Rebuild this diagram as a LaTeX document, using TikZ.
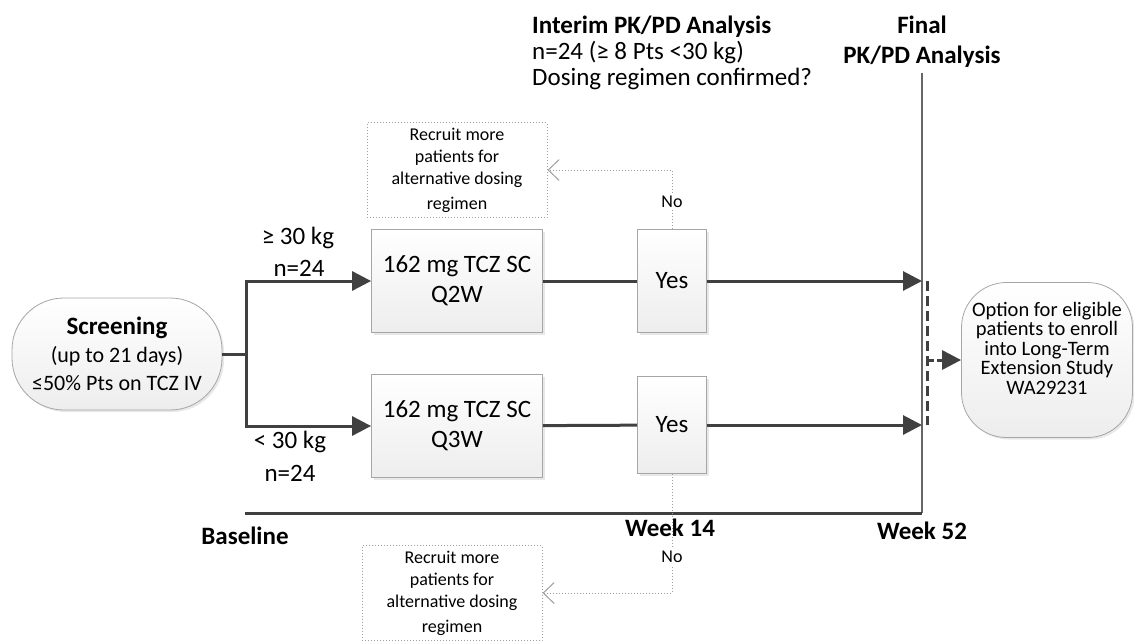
\documentclass[tikz,border=0pt]{standalone}
\usepackage{fontspec}
\setmainfont{Carlito}
\usepackage{tikz}
\usetikzlibrary{shadows,arrows.meta,positioning,calc}

\begin{document}
\begin{tikzpicture}[x=1pt,y=-1pt,
    box/.style={draw=gray!70,line width=0.8pt,top color=white,bottom color=gray!14,
      drop shadow={opacity=0.18,shadow xshift=2pt,shadow yshift=-2pt},
      align=center,inner sep=0pt,font=\fontsize{25}{30}\selectfont},
    roundbox/.style={box,rounded corners=45pt},
    recruit/.style={draw=gray!75,dotted,line width=1pt,minimum width=180pt,minimum height=95pt,
      align=center,inner sep=0pt,font=\fontsize{18}{22}\selectfont},
    flow/.style={draw=black!75,line width=3pt},
    tip/.style={-{Triangle[length=19pt,width=19pt]}},
    nolink/.style={draw=gray!75,dotted,line width=1pt,-{Straight Barb[length=11pt,width=21pt]}},
    lbl/.style={font=\fontsize{25}{30}\selectfont,inner sep=0pt}]
    \useasboundingbox (0,0) rectangle (1134,643);
    % Main nodes
    \node[roundbox,rounded corners=52pt,minimum width=210pt,minimum height=112pt,font=\fontsize{22}{28}\selectfont] (screen) at (117,354)
      {{\fontsize{25}{28}\selectfont\bfseries Screening}\\(up to 21 days)\\≤50\% Pts on TCZ IV};
    \node[box,minimum width=171pt,minimum height=103pt] (q2w) at (457,281) {162 mg TCZ SC\\Q2W};
    \node[box,minimum width=171pt,minimum height=103pt] (q3w) at (457,426) {162 mg TCZ SC\\Q3W};
    \node[box,minimum width=69pt,minimum height=103pt] (yes1) at (672,281) {Yes};
    \node[box,minimum width=69pt,minimum height=97pt] (yes2) at (672,425) {Yes};
    \node[roundbox,minimum width=171pt,minimum height=155pt,font=\fontsize{20.5}{19.5}\selectfont] (ext) at (1047,360)
      {Option for eligible\\patients to enroll\\into Long-Term\\Extension Study\\WA29231\\[4pt]\mbox{}};
    \node[recruit] (more1) at (457,170) {Recruit more\\patients for\\alternative dosing\\[3pt]regimen};
    \node[recruit] (more2) at (452,593) {Recruit more\\patients for\\alternative dosing\\[3pt]regimen};
    % Time line
    \coordinate (split) at (246,354);
    \coordinate (ftop) at (922,73);
    \coordinate (fbot) at (922,513);
    \coordinate (base) at (245,513);
    \coordinate (end1) at (922,281);
    \coordinate (end2) at (922,425);
    \coordinate (d1) at (927,281);
    \coordinate (d2) at (927,425);
    \draw[black!60,line width=1.3pt] (ftop) -- (fbot);
    \draw[flow] (base) -- (fbot);
    % Arms
    \draw[flow] (screen.east) -- (split);
    \draw[flow,tip] (split) |- (q2w.west);
    \draw[flow,tip] (split) |- (q3w.west);
    \draw[flow] (q2w) -- (yes1);
    \draw[flow] (q3w) -- (yes2);
    \draw[flow,tip] (yes1) -- (end1);
    \draw[flow,tip] (yes2) -- (end2);
    \draw[flow,dash pattern=on 10pt off 5pt] (d1) -- (d2);
    \draw[flow,dash pattern=on 7pt off 3pt,tip] (ext.west -| d1) -- (ext.west);
    % No branches
    \draw[nolink] (yes1.north) |- node[pos=0.23,fill=white,inner sep=2pt,font=\fontsize{18}{22}\selectfont] (no1) {No} (more1.east);
    \draw[nolink] (yes2.south) |- node[pos=0.35,fill=white,inner sep=2pt,font=\fontsize{18}{22}\selectfont] (no2) {No} (more2.east);
    % Labels
    \node[lbl] (wt1) at (298,238) {≥ 30 kg};
    \node[lbl] (n1) at (299,268) {n=24};
    \node[lbl] (wt2) at (290,442) {< 30 kg};
    \node[lbl] (n2) at (290,473) {n=24};
    \foreach \nm/\x/\y/\txt in {blab/245/536/Baseline,wk14/670/528/Week 14,wk52/922/531/Week 52}
      {\node[lbl,font=\fontsize{25}{30}\selectfont\bfseries] (\nm) at (\x,\y) {\txt};}
    % Headers
    \node[lbl,font=\fontsize{25}{26}\selectfont,align=left,anchor=north west] (interim) at (532,16)
      {\textbf{Interim PK/PD Analysis}\\n=24 (≥ 8 Pts <30 kg)\\Dosing regimen confirmed?};
    \node[lbl,font=\fontsize{25}{30}\selectfont\bfseries,align=center,anchor=north] (finalpk) at (922,16)
      {Final\\PK/PD Analysis};
\end{tikzpicture}
\end{document}
